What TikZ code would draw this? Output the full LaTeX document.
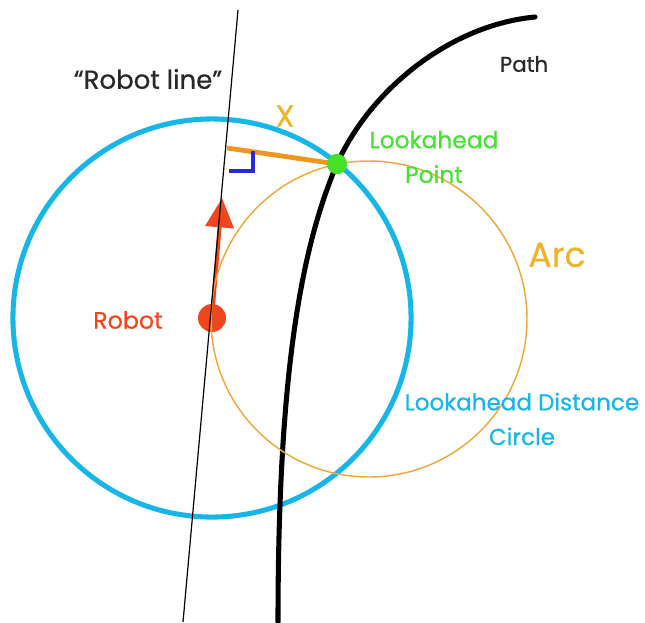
\documentclass[tikz,border=0pt]{standalone}
\usepackage{fontspec}
\setmainfont{Poppins}[FakeBold=0.6]
\usetikzlibrary{arrows.meta}
\definecolor{lcyan}{RGB}{22,182,232}
\definecolor{lorange}{RGB}{240,168,60}
\definecolor{dorange}{RGB}{240,150,30}
\definecolor{lgold}{RGB}{240,180,40}
\definecolor{lgreen}{RGB}{70,225,40}
\definecolor{tgreen}{RGB}{70,225,50}
\definecolor{lred}{RGB}{240,70,30}
\definecolor{lblue}{RGB}{40,40,220}
\definecolor{tgray}{RGB}{40,40,40}
\tikzset{
  lbl/.style={inner sep=0pt, align=center},
  fs/.style={font=\fontsize{#1}{26}\selectfont},
  dotnode/.style={circle, inner sep=0pt, draw=none}
}
\begin{document}
\begin{tikzpicture}[x=0.75pt,y=-0.75pt]
\useasboundingbox (0,0) rectangle (645,622);
% lookahead distance circle
\coordinate (rc) at (212,318);
\draw[lcyan, line width=3.8pt] (rc) circle[radius=149.3pt];
% path
\coordinate (p0) at (535,17);
\coordinate (p2) at (278,622);
\draw[black, line width=3.8pt, line cap=round] (p0) .. controls (450,25) and (370,90) .. (337,164)
  .. controls (300,250) and (278,380) .. (p2);
% robot dot
\node[dotnode, fill=lred, minimum size=21pt] (robot) at (rc) {};
% heading arrow
\coordinate (tip) at (222,198);
\draw[lred, line width=3pt, -{Triangle[length=22pt,width=21pt]}] (robot.center) -- (tip);
% arc
\coordinate (ac) at (369,319);
\draw[lorange, line width=1.1pt] (ac) circle[radius=118.5pt];
% x line
\node[dotnode, fill=lgreen, minimum size=15pt] (lp) at (337,164) {};
\coordinate (foot) at (227,148);
\draw[dorange, line width=3.6pt] (foot) -- (lp.center);
% right angle marker
\coordinate (m1) at (229,171);
\coordinate (m2) at (253,171);
\coordinate (m3) at (253,151);
\draw[lblue, line width=2.4pt] (m1) -- (m2) -- (m3);
% robot line
\coordinate (rl1) at (238,10);
\coordinate (rl2) at (183,622);
\draw[black, line width=0.9pt] (rl1) -- (rl2);
% lookahead point on top
\node[dotnode, fill=lgreen, minimum size=15pt] at (lp) {};
% labels
\node[lbl, fs=19.5, text=tgray] (trl) at (148,79) {“Robot line”};
\node[lbl, fs=16, text=tgray] (tpath) at (524,64) {Path};
\node[lbl, fs=23, text=lgold] (tx) at (285,116) {X};
\node[lbl, fs=17.5, text=tgreen] (tlp) at (434,157) {Lookahead\\Point};
\node[lbl, fs=26, text=lgold] (tarc) at (557,255) {Arc};
\node[lbl, fs=17.8, text=lred] (trob) at (128,320) {Robot};
\node[lbl, fs=17.3, text=lcyan] (tldc) at (522,419) {Lookahead Distance\\Circle};
\end{tikzpicture}
\end{document}
